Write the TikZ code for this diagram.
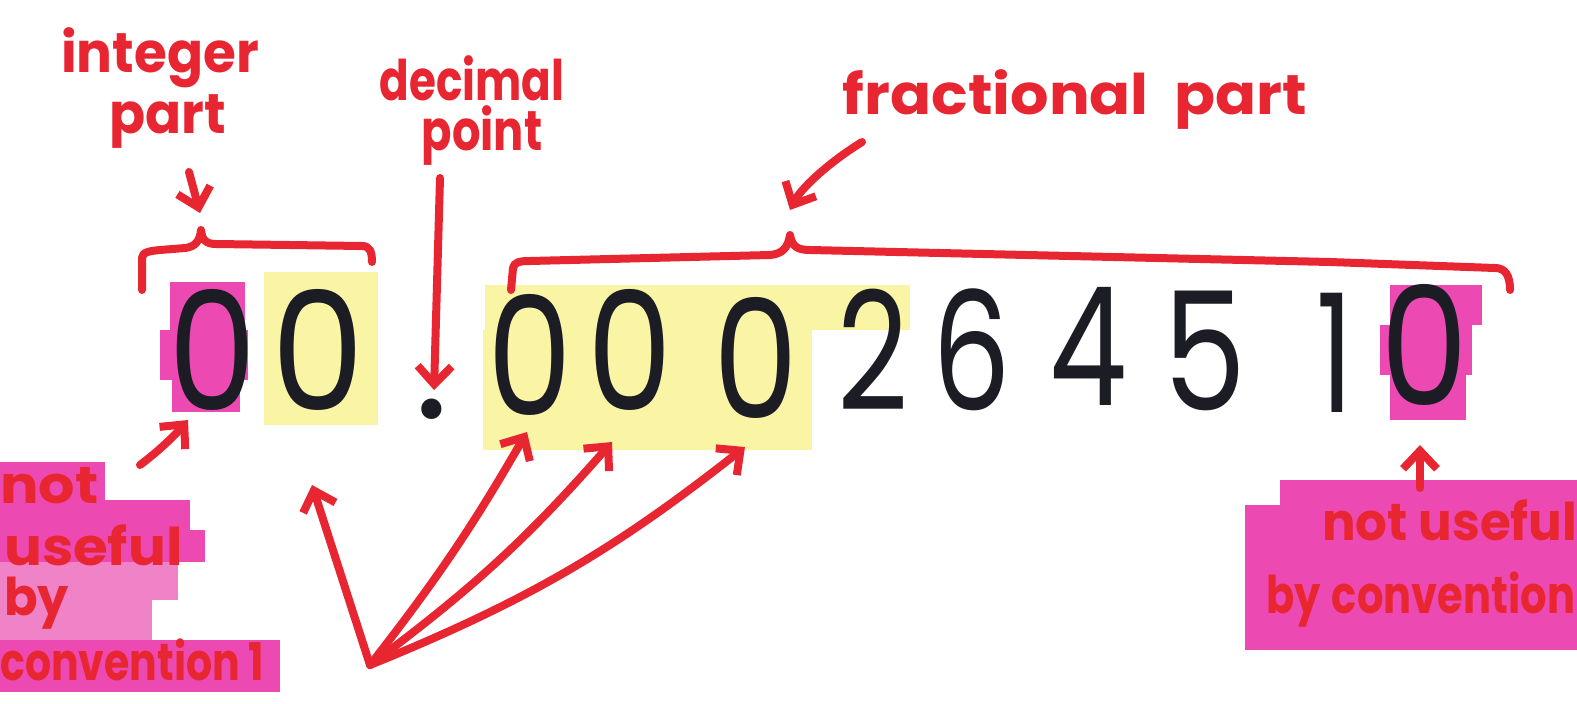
\documentclass[tikz,border=0pt]{standalone}
\usepackage{fontspec}
\usepackage{graphicx}
\setmainfont{Poppins}
\usetikzlibrary{arrows.meta}
\definecolor{ink}{RGB}{232,38,50}
\definecolor{hlpink}{RGB}{236,74,178}
\definecolor{hlpinklight}{RGB}{240,130,200}
\definecolor{hlyellow}{RGB}{250,244,165}
\definecolor{digitink}{RGB}{28,28,36}
\newcommand{\narrow}[2]{\scalebox{#1}[1]{#2}}
\begin{document}
\begin{tikzpicture}[x=1pt,y=-1pt,
  pen/.style={draw=ink,line width=8pt,line cap=round,line join=round},
  arr/.style={pen,-{Straight Barb[length=18pt,width=34pt]}},
  lbl/.style={text=ink,font=\fontsize{56}{60}\selectfont\bfseries,inner sep=0pt},
  boxlbl/.style={text=ink,font=\fontsize{52}{56}\selectfont\bfseries,inner sep=0pt,anchor=west},
  dig/.style={text=digitink,font=\fontsize{165}{165}\selectfont,inner sep=0pt,anchor=base},
  pinkhl/.style={fill=hlpink,draw=none},
  yellowhl/.style={fill=hlyellow,draw=none}
]
\useasboundingbox (0,0) rectangle (1577,704);
\clip (0,0) rectangle (1577,704);
\fill[white] (0,0) rectangle (1577,704);

% marker highlights behind the digits
\fill[pinkhl] (170,282) rectangle (245,330);
\fill[pinkhl] (160,330) rectangle (248,380);
\fill[pinkhl] (172,380) rectangle (240,412);
\fill[yellowhl] (264,272) rectangle (378,425);
\fill[yellowhl] (485,285) rectangle (910,330);
\fill[yellowhl] (483,330) rectangle (812,450);
\fill[pinkhl] (1390,285) rectangle (1482,325);
\fill[pinkhl] (1380,325) rectangle (1472,375);
\fill[pinkhl] (1390,375) rectangle (1466,420);

% marker highlights behind the two side notes
\fill[pinkhl] (0,462) rectangle (105,500);
\fill[pinkhl] (0,500) rectangle (190,530);
\fill[pinkhl] (0,530) rectangle (205,562);
\fill[hlpinklight] (0,562) rectangle (178,600);
\fill[hlpinklight] (0,600) rectangle (152,640);
\fill[pinkhl] (0,640) rectangle (280,692);
\fill[pinkhl] (1280,480) rectangle (1577,505);
\fill[pinkhl] (1245,505) rectangle (1577,650);

% the number
\node[dig] (d1) at (213,410) {\narrow{0.85}{0}};
\node[dig] (d2) at (318,410) {\narrow{0.9}{0}};
\node[dig] (dp) at (432,418) {.};
\node[dig] (d3) at (530,415) {\narrow{0.82}{0}};
\node[dig] (d4) at (630,410) {\narrow{0.82}{0}};
\node[dig] (d5) at (756,418) {\narrow{0.82}{0}};
\node[dig] (d6) at (873,410) {\narrow{0.75}{2}};
\node[dig] (d7) at (972,410) {\narrow{0.75}{6}};
\node[dig] (d8) at (1088,405) {\narrow{0.75}{4}};
\node[dig] (d9) at (1205,410) {\narrow{0.8}{5}};
\node[dig] (d10) at (1335,412) {\narrow{0.7}{1}};
\node[dig] (d11) at (1425,405) {\narrow{0.85}{0}};

% labels
\node[lbl] (intA) at (160,58) {\narrow{0.95}{integer}};
\node[lbl] (intB) at (168,122) {\narrow{0.95}{part}};
\node[lbl] (decA) at (472,78) {\narrow{0.78}{decimal}};
\node[lbl] (decB) at (482,136) {\narrow{0.8}{point}};
\node[lbl] (frac) at (1075,100) {\narrow{1.08}{fractional\hspace{24pt}part}};

\node[boxlbl] (nl1) at (0,486) {\narrow{1.1}{not}};
\node[boxlbl] (nl2) at (4,545) {\narrow{1.08}{useful}};
\node[boxlbl] (nl3) at (4,603) {\narrow{0.95}{by}};
\node[boxlbl] (nl4) at (0,660) {\narrow{0.79}{convention 1}};
\node[boxlbl] (nr1) at (1322,520) {\narrow{0.96}{not useful}};
\node[boxlbl] (nr2) at (1266,600) {\narrow{0.8}{by\hspace{14pt}convention}};

% braces
\draw[pen] (142,290) -- (142,258) .. controls (142,252) and (150,251) .. (160,250)
  -- (185,248) .. controls (195,247) and (200,241) .. (201,230)
  .. controls (202,240) and (206,244) .. (216,244) -- (362,246)
  .. controls (370,246) and (372,252) .. (372,262);
\draw[pen] (511,290) -- (513,268) .. controls (514,262) and (520,261) .. (530,261)
  -- (770,255) .. controls (782,254) and (788,248) .. (790,235)
  .. controls (792,247) and (798,250) .. (810,250) -- (1330,262)
  -- (1495,268) .. controls (1505,268) and (1510,275) .. (1510,290);

% arrow end points
\coordinate (intTail) at (189,172);
\coordinate (intHead) at (200,213);
\coordinate (decTail) at (440,178);
\coordinate (decHead) at (434,390);
\coordinate (fracTail) at (862,142);
\coordinate (fracHead) at (790,210);
\coordinate (leftTail) at (140,465);
\coordinate (leftHead) at (188,420);
\coordinate (rightTail) at (1420,488);
\coordinate (rightHead) at (1420,445);
\coordinate (fan) at (370,665);
\coordinate (fanA) at (312,485);
\coordinate (fanB) at (527,432);
\coordinate (fanC) at (612,442);
\coordinate (fanD) at (745,447);

% arrows
\draw[arr] (intTail) -- (intHead);
\draw[arr] (decTail) -- (decHead);
\draw[arr] (fracTail) .. controls (825,165) and (800,190) .. (fracHead);
\draw[arr] (leftTail) .. controls (160,450) and (175,435) .. (leftHead);
\draw[arr] (rightTail) -- (rightHead);
\draw[arr] (fan) -- (fanA);
\draw[arr] (fan) to[bend right=4] (fanB);
\draw[arr] (fan) to[bend right=6] (fanC);
\draw[arr] (fan) to[bend right=8] (fanD);
\end{tikzpicture}
\end{document}
